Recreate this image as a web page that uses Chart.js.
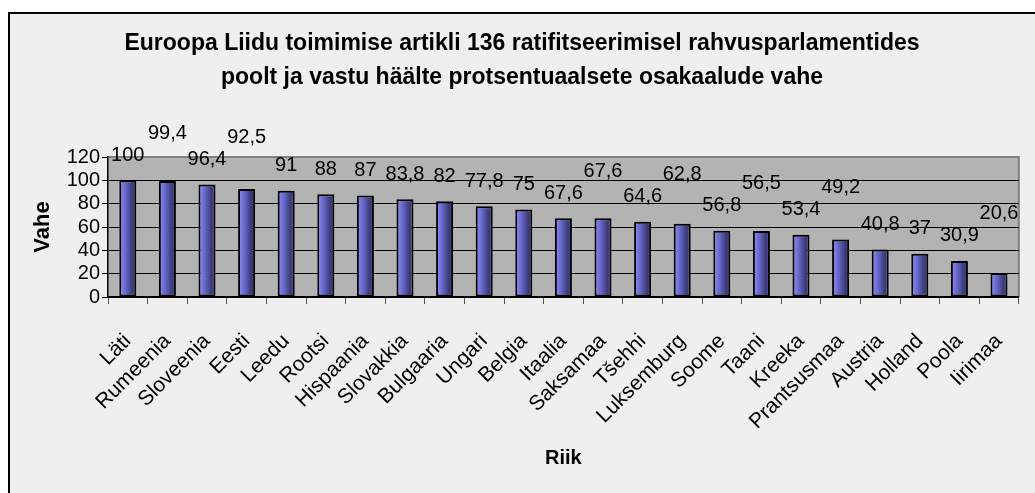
<!DOCTYPE html>
<html>
<head>
<meta charset="utf-8">
<script src="https://cdn.jsdelivr.net/npm/chart.js@4/dist/chart.umd.min.js"></script>
<style>
  html, body { margin: 0; padding: 0; background: #fff; overflow: hidden; }
  #box {
    position: absolute; left: 8px; top: 12px;
    width: 1040px; height: 490px;
    border-left: 2px solid #000; border-top: 2px solid #000;
    background: #efefef;
  }
  #chart { position: absolute; left: 0; top: 0; }
</style>
</head>
<body>
<div id="box"><canvas id="chart" width="1032" height="481"></canvas></div>
<script>
const titleLines = [
  'Euroopa Liidu toimimise artikli 136 ratifitseerimisel rahvusparlamentides',
  'poolt ja vastu häälte protsentuaalsete osakaalude vahe'
];
const countries = ['Läti', 'Rumeenia', 'Sloveenia', 'Eesti', 'Leedu', 'Rootsi', 'Hispaania',
  'Slovakkia', 'Bulgaaria', 'Ungari', 'Belgia', 'Itaalia', 'Saksamaa', 'Tšehhi', 'Luksemburg',
  'Soome', 'Taani', 'Kreeka', 'Prantsusmaa', 'Austria', 'Holland', 'Poola', 'Iirimaa'];
const vahe = [100, 99.4, 96.4, 92.5, 91, 88, 87, 83.8, 82, 77.8, 75, 67.6, 67.6, 64.6, 62.8,
  56.8, 56.5, 53.4, 49.2, 40.8, 37, 30.9, 20.6];
const yTicks = [0, 20, 40, 60, 80, 100, 120];

const FONT = "'Liberation Sans', Arial, sans-serif";
const BAR_PCT = 0.43;

// gray plot background + gray top/right border, like the Excel plot area
const plotArea = {
  id: 'plotArea',
  beforeDraw(chart) {
    const { ctx, chartArea: a } = chart;
    ctx.save();
    ctx.fillStyle = '#b3b3b3';
    ctx.fillRect(a.left, a.top, a.right - a.left, a.bottom - a.top);
    ctx.strokeStyle = '#808080';
    ctx.lineWidth = 2;
    ctx.beginPath();
    ctx.moveTo(a.left, a.top);
    ctx.lineTo(a.right, a.top);
    ctx.lineTo(a.right, a.bottom);
    ctx.stroke();
    ctx.restore();
  }
};

// value labels above bars, bumped up when they would run into the previous one
const valueLabels = {
  id: 'valueLabels',
  afterDatasetsDraw(chart) {
    const { ctx } = chart;
    const meta = chart.getDatasetMeta(0);
    const h = 20;
    let prev = null;
    ctx.save();
    ctx.font = '20px ' + FONT;
    ctx.fillStyle = '#000';
    ctx.textAlign = 'center';
    ctx.textBaseline = 'middle';
    meta.data.forEach((bar, i) => {
      const txt = String(vahe[i]).replace('.', ',');
      const w = ctx.measureText(txt).width;
      let y = bar.y - 25;
      if (prev && Math.abs(bar.x - prev.x) < (w + prev.w) / 2 + 6 && Math.abs(y - prev.y) < h) {
        y = prev.y - h - 2;
      }
      ctx.fillText(txt, bar.x, y);
      prev = { x: bar.x, y, w };
    });
    ctx.restore();
  }
};

function barFill(c) {
  const xs = c.chart.scales.x;
  if (!xs || c.dataIndex === undefined) return '#7f7fff';
  const cx = xs.getPixelForValue(c.dataIndex);
  const half = xs.width / countries.length * BAR_PCT / 2;
  if (!isFinite(cx) || !isFinite(half) || half <= 0) return '#7f7fff';
  const g = c.chart.ctx.createLinearGradient(cx - half, 0, cx + half, 0);
  g.addColorStop(0, '#8e8eff');
  g.addColorStop(0.4, '#6464c4');
  g.addColorStop(0.78, '#383872');
  g.addColorStop(1, '#5050a0');
  return g;
}

new Chart(document.getElementById('chart'), {
  type: 'bar',
  data: {
    labels: countries,
    datasets: [{
      label: 'Vahe',
      data: vahe,
      backgroundColor: barFill,
      borderColor: '#000',
      borderWidth: 2,
      borderSkipped: false,
      barPercentage: BAR_PCT,
      categoryPercentage: 1
    }]
  },
  options: {
    responsive: false,
    devicePixelRatio: 1,
    animation: false,
    layout: { padding: { left: 0, right: 8, top: 0, bottom: 25 } },
    plugins: {
      legend: { display: false },
      tooltip: { enabled: false },
      title: {
        display: true,
        text: titleLines,
        color: '#000',
        font: { family: FONT, size: 23, weight: 'bold', lineHeight: 1.5 },
        padding: { top: 12, bottom: 62 }
      }
    },
    scales: {
      x: {
        afterFit(s) { s.height = 173; },
        grid: { display: true, drawOnChartArea: false, offset: true, tickLength: 7, color: '#555', lineWidth: 1 },
        border: { color: '#000', width: 1.5 },
        ticks: {
          autoSkip: false, minRotation: 45, maxRotation: 45, padding: 25,
          color: '#000', font: { family: FONT, size: 21 }
        },
        title: {
          display: true, text: 'Riik', color: '#000',
          font: { family: FONT, size: 20, weight: 'bold', lineHeight: 1.2 },
          padding: { top: 0, bottom: 0 }
        }
      },
      y: {
        min: 0, max: 120,
        afterFit(s) { s.width = 98; },
        afterBuildTicks(s) { s.ticks = yTicks.map(v => ({ value: v })); },
        grid: {
          color: c => (c.tick && c.tick.value === 120 ? '#808080' : '#000'),
          lineWidth: 1, tickLength: 6, tickColor: '#000'
        },
        border: { color: '#000', width: 1.5 },
        ticks: { autoSkip: false, padding: 2, color: '#000', font: { family: FONT, size: 20 } },
        title: {
          display: true, text: 'Vahe', color: '#000',
          font: { family: FONT, size: 22, weight: 'bold', lineHeight: 1.2 },
          padding: { top: 20, bottom: 0 }
        }
      }
    }
  },
  plugins: [plotArea, valueLabels]
});
</script>
</body>
</html>
